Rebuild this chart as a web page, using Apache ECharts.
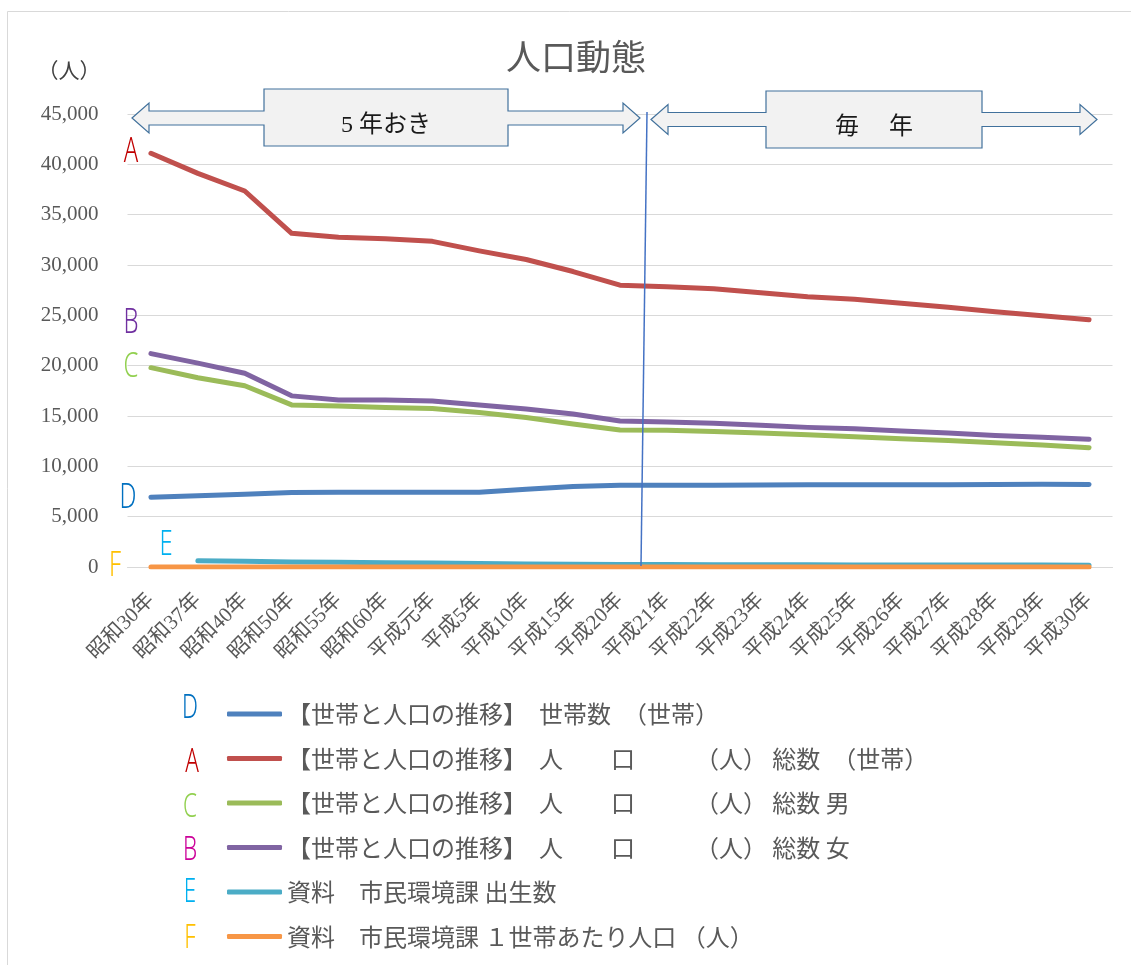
<!DOCTYPE html>
<html>
<head>
<meta charset="utf-8">
<title>人口動態</title>
<script src="https://cdn.jsdelivr.net/npm/echarts@6/dist/echarts.min.js"></script>
<style>
	html, body { margin: 0; padding: 0; background: #fff; }
	#chart { width: 1131px; height: 965px; }
</style>
</head>
<body>
<div id="chart"></div>
<script>
	var categories = [ '昭和30年', '昭和37年', '昭和40年', '昭和50年', '昭和55年', '昭和60年', '平成元年', '平成5年', '平成10年',
			'平成15年', '平成20年', '平成21年', '平成22年', '平成23年', '平成24年', '平成25年', '平成26年', '平成27年', '平成28年',
			'平成29年', '平成30年' ];
	var yTicks = [ 0, 5000, 10000, 15000, 20000, 25000, 30000, 35000, 40000, 45000 ];

	// D 世帯数
	var households = [ 6920, 7090, 7220, 7390, 7420, 7420, 7420, 7420, 7720, 7990, 8120, 8110, 8120, 8140, 8180, 8170, 8170,
			8180, 8200, 8210, 8200 ];
	// A 人口総数
	var popTotal = [ 41100, 39100, 37350, 33150, 32750, 32600, 32350, 31400, 30550, 29350, 28000, 27850, 27650, 27250, 26850,
			26600, 26200, 25800, 25350, 24950, 24550 ];
	// C 男
	var popMale = [ 19800, 18800, 18000, 16100, 16000, 15850, 15750, 15350, 14850, 14200, 13600, 13580, 13450, 13300, 13130,
			12950, 12750, 12560, 12350, 12120, 11850 ];
	// B 女
	var popFemale = [ 21200, 20250, 19250, 17000, 16600, 16600, 16500, 16100, 15700, 15200, 14500, 14400, 14270, 14070, 13870,
			13740, 13500, 13300, 13070, 12880, 12680 ];
	// E 出生数
	var births = [ null, 620, 570, 500, 460, 420, 390, 350, 310, 280, 250, 240, 230, 220, 220, 210, 200, 200, 190, 190, 180 ];
	// F 1世帯あたり人口
	var perHousehold = [ 5.94, 5.51, 5.17, 4.48, 4.41, 4.39, 4.36, 4.23, 3.96, 3.67, 3.45, 3.44, 3.41, 3.35, 3.29, 3.26, 3.21,
			3.16, 3.10, 3.05, 3.00 ];

	var seriesNames = [ '【世帯と人口の推移】　世帯数　（世帯）',
			'【世帯と人口の推移】　人　　口　　　（人） 総数　（世帯）',
			'【世帯と人口の推移】　人　　口　　　（人） 総数 男',
			'【世帯と人口の推移】　人　　口　　　（人） 総数 女',
			'資料　市民環境課 出生数',
			'資料　市民環境課 １世帯あたり人口 （人）' ];
	var seriesColors = [ '#4F81BD', '#C0504D', '#9BBB59', '#8064A2', '#4BACC6', '#F79646' ];
	var seriesData = [ households, popTotal, popMale, popFemale, births, perHousehold ];

	var cjk = '"Noto Sans CJK JP", "Noto Sans CJK SC", sans-serif';
	var mixed = '"Liberation Serif", "Noto Sans CJK JP", serif';

	function makeSeries() {
		var list = [];
		seriesData.forEach(function(data, i) {
			list.push({
				name : seriesNames[i],
				type : 'line',
				data : data,
				symbol : 'none',
				connectNulls : false,
				color : seriesColors[i],
				lineStyle : {
					width : 5,
					color : seriesColors[i],
					cap : 'round',
					join : 'round'
				}
			});
		});
		return list;
	}

	function letter(ch, x, y, color, size) {
		return {
			type : 'text',
			x : x,
			y : y,
			scaleX : 0.68,
			z : 20,
			style : {
				text : ch,
				fill : color,
				fontSize : size,
				fontWeight : 300,
				fontFamily : '"Noto Sans", sans-serif',
				align : 'center',
				verticalAlign : 'middle'
			}
		};
	}

	// double headed arrow with a box in the middle
	function arrowCallout(x1, x2, bx1, bx2, cy, boxTop, boxBottom, label) {
		var sh = 7, hh = 15, hw = 17;
		var pts = [ [ x1, cy ], [ x1 + hw, cy - hh ], [ x1 + hw, cy - sh ], [ bx1, cy - sh ], [ bx1, boxTop ], [ bx2, boxTop ],
				[ bx2, cy - sh ], [ x2 - hw, cy - sh ], [ x2 - hw, cy - hh ], [ x2, cy ], [ x2 - hw, cy + hh ], [ x2 - hw, cy + sh ],
				[ bx2, cy + sh ], [ bx2, boxBottom ], [ bx1, boxBottom ], [ bx1, cy + sh ], [ x1 + hw, cy + sh ], [ x1 + hw, cy + hh ] ];
		return [ {
			type : 'polygon',
			z : 15,
			shape : {
				points : pts
			},
			style : {
				fill : '#F2F2F2',
				stroke : '#41719C',
				lineWidth : 1.2
			}
		}, {
			type : 'text',
			z : 16,
			x : (bx1 + bx2) / 2,
			y : cy + 8,
			style : {
				text : label,
				fill : '#1a1a1a',
				fontSize : 24,
				fontFamily : mixed,
				align : 'center',
				verticalAlign : 'middle'
			}
		} ];
	}

	var graphics = [ {
		type : 'rect',
		z : 0,
		shape : {
			x : 7.5,
			y : 11.5,
			width : 1200,
			height : 1000
		},
		style : {
			fill : 'none',
			stroke : '#D9D9D9',
			lineWidth : 1
		}
	}, {
		type : 'text',
		x : 576,
		y : 57,
		style : {
			text : '人口動態',
			fill : '#595959',
			fontSize : 35,
			fontFamily : cjk,
			align : 'center',
			verticalAlign : 'middle'
		}
	}, {
		type : 'text',
		x : 69,
		y : 70,
		style : {
			text : '（人）',
			fill : '#404040',
			fontSize : 21,
			fontFamily : cjk,
			align : 'center',
			verticalAlign : 'middle'
		}
	}, {
		type : 'line',
		z : 18,
		shape : {
			x1 : 647,
			y1 : 112,
			x2 : 641,
			y2 : 566
		},
		style : {
			stroke : '#4472C4',
			lineWidth : 1.5
		}
	} ];
	graphics = graphics.concat(arrowCallout(132, 640, 264, 508, 118, 89, 146, '5 年おき'));
	graphics = graphics.concat(arrowCallout(651, 1097, 766, 982, 119.5, 91, 148, '毎　 年'));

	// letters next to lines
	graphics.push(letter('A', 131, 152, '#C00000', 35));
	graphics.push(letter('B', 131, 323, '#7030A0', 35));
	graphics.push(letter('C', 131, 367, '#92D050', 35));
	graphics.push(letter('D', 128, 498, '#0070C0', 35));
	graphics.push(letter('E', 166, 545, '#00B0F0', 35));
	graphics.push(letter('F', 115, 566, '#FFC000', 35));
	// letters next to legend
	graphics.push(letter('D', 190, 709, '#0070C0', 33));
	graphics.push(letter('A', 192, 763, '#C00000', 33));
	graphics.push(letter('C', 190, 808, '#92D050', 33));
	graphics.push(letter('B', 190, 851, '#CC0099', 33));
	graphics.push(letter('E', 190, 893, '#00B0F0', 33));
	graphics.push(letter('F', 190, 939, '#FFC000', 33));

	var chart = echarts.init(document.getElementById('chart'));
	var option = {
		animation : false,
		backgroundColor : '#fff',
		grid : {
			left : 127.5,
			right : 18.5,
			top : 114,
			bottom : 398,
			containLabel : false
		},
		legend : {
			orient : 'vertical',
			left : 227,
			top : 702,
			padding : 0,
			itemWidth : 55,
			itemHeight : 5,
			itemGap : 20.5,
			icon : 'roundRect',
			data : seriesNames,
			textStyle : {
				color : '#595959',
				fontSize : 24,
				lineHeight : 24,
				fontFamily : cjk
			}
		},
		xAxis : {
			type : 'category',
			data : categories,
			boundaryGap : true,
			axisTick : {
				show : false
			},
			axisLine : {
				lineStyle : {
					color : '#D9D9D9',
					width : 1
				}
			},
			axisLabel : {
				interval : 0,
				rotate : 45,
				margin : 30,
				color : '#595959',
				fontSize : 21,
				fontFamily : mixed
			}
		},
		yAxis : {
			type : 'value',
			min : yTicks[0],
			max : yTicks[yTicks.length - 1],
			interval : yTicks[1] - yTicks[0],
			axisLine : {
				show : false
			},
			axisTick : {
				show : false
			},
			splitLine : {
				lineStyle : {
					color : '#D9D9D9',
					width : 1
				}
			},
			axisLabel : {
				margin : 29,
				color : '#595959',
				fontSize : 21,
				fontFamily : mixed,
				formatter : function(v) {
					return v.toLocaleString('en-US');
				}
			}
		},
		graphic : graphics,
		series : makeSeries()
	};
	chart.setOption(option, true);
</script>
</body>
</html>
